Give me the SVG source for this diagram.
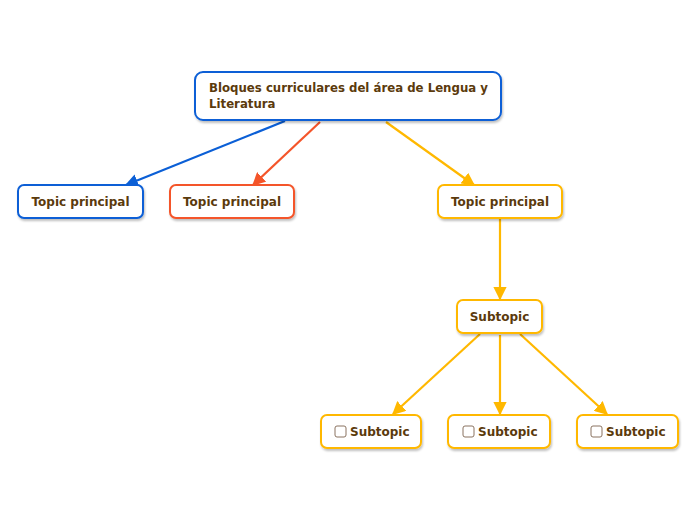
<svg xmlns="http://www.w3.org/2000/svg" width="696" height="520" viewBox="0 0 696 520">
<style>
.n{fill:#fff;stroke-width:2}
.b{stroke:#0b5fd6}
.o{stroke:#f4552a}
.y{stroke:#ffb800}
.t{font-family:"DejaVu Sans",Verdana,sans-serif;font-weight:bold;font-size:12px;fill:#5b3a0c}
.r{font-size:11.75px}
.c{text-anchor:middle}
.l{fill:none;stroke-width:2.2}
.cb{fill:#fff;stroke:#8a7360;stroke-width:1}
</style>
<defs>
<filter id="sh" x="-10%" y="-10%" width="130%" height="140%">
<feDropShadow dx="1" dy="2" stdDeviation="1.2" flood-color="#000" flood-opacity="0.25"/>
</filter>
<marker id="ab" viewBox="0 0 10 10" refX="9" refY="5" markerWidth="6" markerHeight="6" orient="auto" markerUnits="strokeWidth"><path d="M0,0L10,5L0,10z" fill="#0b5fd6"/></marker>
<marker id="ao" viewBox="0 0 10 10" refX="9" refY="5" markerWidth="6" markerHeight="6" orient="auto" markerUnits="strokeWidth"><path d="M0,0L10,5L0,10z" fill="#f4552a"/></marker>
<marker id="ay" viewBox="0 0 10 10" refX="9" refY="5" markerWidth="6" markerHeight="6" orient="auto" markerUnits="strokeWidth"><path d="M0,0L10,5L0,10z" fill="#ffb800"/></marker>
</defs>
<g id="connectors">
<line class="l b" x1="285" y1="121" x2="126" y2="185" marker-end="url(#ab)"/>
<line class="l o" x1="320" y1="122" x2="253" y2="185" marker-end="url(#ao)"/>
<line class="l y" x1="386" y1="122" x2="474" y2="185" marker-end="url(#ay)"/>
<line class="l y" x1="500" y1="219" x2="500" y2="299" marker-end="url(#ay)"/>
<line class="l y" x1="480" y1="334" x2="393" y2="414" marker-end="url(#ay)"/>
<line class="l y" x1="500" y1="335" x2="500" y2="414" marker-end="url(#ay)"/>
<line class="l y" x1="520" y1="334" x2="607" y2="414" marker-end="url(#ay)"/>
</g>
<g id="root">
<rect class="n b" x="195" y="72" width="306" height="48" rx="8" filter="url(#sh)"/>
<text class="t r" x="209" y="92">Bloques curriculares del área de Lengua y</text>
<text class="t r" x="209" y="108">Literatura</text>
</g>
<g id="topic1">
<rect class="n b" x="18" y="185" width="125" height="33" rx="6" filter="url(#sh)"/>
<text class="t c" x="80.5" y="205.5">Topic principal</text>
</g>
<g id="topic2">
<rect class="n o" x="170" y="185" width="124" height="33" rx="6" filter="url(#sh)"/>
<text class="t c" x="232" y="205.5">Topic principal</text>
</g>
<g id="topic3">
<rect class="n y" x="438" y="185" width="124" height="33" rx="6" filter="url(#sh)"/>
<text class="t c" x="500" y="205.5">Topic principal</text>
</g>
<g id="subtopic">
<rect class="n y" x="457" y="300" width="85" height="33" rx="6" filter="url(#sh)"/>
<text class="t c" x="499.5" y="320.5">Subtopic</text>
</g>
<g id="sub1">
<rect class="n y" x="321" y="415" width="100" height="33" rx="6" filter="url(#sh)"/>
<rect class="cb" x="335" y="426" width="11" height="11" rx="2"/>
<text class="t" x="350" y="436">Subtopic</text>
</g>
<g id="sub2">
<rect class="n y" x="448" y="415" width="102" height="33" rx="6" filter="url(#sh)"/>
<rect class="cb" x="463" y="426" width="11" height="11" rx="2"/>
<text class="t" x="478" y="436">Subtopic</text>
</g>
<g id="sub3">
<rect class="n y" x="577" y="415" width="101" height="33" rx="6" filter="url(#sh)"/>
<rect class="cb" x="591" y="426" width="11" height="11" rx="2"/>
<text class="t" x="606" y="436">Subtopic</text>
</g>
</svg>
